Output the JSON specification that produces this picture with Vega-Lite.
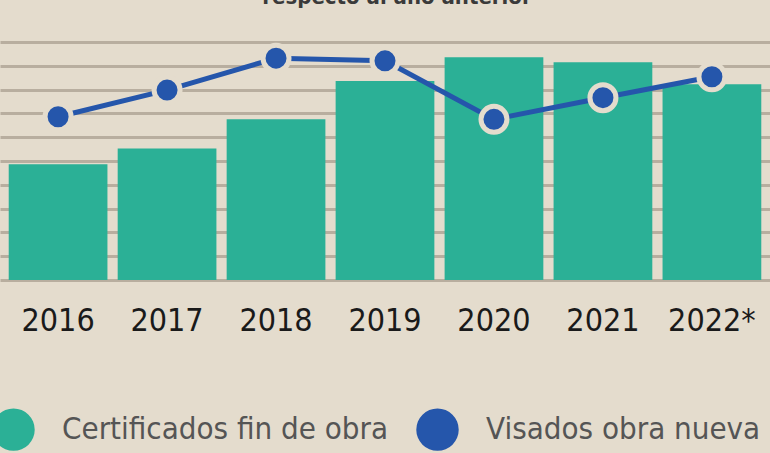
{
  "$schema": "https://vega.github.io/schema/vega-lite/v6.json",
  "width": 770,
  "height": 238,
  "autosize": {"type": "none"},
  "padding": {"left": 0, "top": 42, "right": 0, "bottom": 173},
  "background": "#e4dccd",
  "title": {
    "text": "respecto al año anterior",
    "anchor": "middle",
    "frame": "group",
    "baseline": "alphabetic",
    "offset": 9,
    "dx": 12,
    "font": "'DejaVu Sans Condensed', serif",
    "fontSize": 22,
    "fontWeight": "bold",
    "color": "#3a3a3a"
  },
  "config": {"view": {"stroke": null}},
  "data": {
    "values": [
      {"year": "2016", "serie": "Certificados fin de obra", "value": 4.86},
      {"year": "2017", "serie": "Certificados fin de obra", "value": 5.53},
      {"year": "2018", "serie": "Certificados fin de obra", "value": 6.75},
      {"year": "2019", "serie": "Certificados fin de obra", "value": 8.36},
      {"year": "2020", "serie": "Certificados fin de obra", "value": 9.36},
      {"year": "2021", "serie": "Certificados fin de obra", "value": 9.15},
      {"year": "2022*", "serie": "Certificados fin de obra", "value": 8.22},
      {"year": "2016", "serie": "Visados obra nueva", "value": 6.86},
      {"year": "2017", "serie": "Visados obra nueva", "value": 7.98},
      {"year": "2018", "serie": "Visados obra nueva", "value": 9.32},
      {"year": "2019", "serie": "Visados obra nueva", "value": 9.21},
      {"year": "2020", "serie": "Visados obra nueva", "value": 6.75},
      {"year": "2021", "serie": "Visados obra nueva", "value": 7.66},
      {"year": "2022*", "serie": "Visados obra nueva", "value": 8.54}
    ]
  },
  "encoding": {
    "x": {
      "field": "year",
      "type": "ordinal",
      "sort": null,
      "scale": {"paddingInner": 0.094, "paddingOuter": 0.08},
      "axis": {
        "title": null,
        "domain": false,
        "ticks": false,
        "tickSize": 0,
        "grid": false,
        "labelAngle": 0,
        "labelPadding": 50,
        "labelBaseline": "alphabetic",
        "labelFontSize": 32,
        "labelFont": "'DejaVu Sans Condensed', serif",
        "labelColor": "#1a1a1a"
      }
    },
    "y": {
      "field": "value",
      "type": "quantitative",
      "scale": {"domain": [0, 10], "nice": false, "zero": true},
      "axis": {
        "title": null,
        "labels": false,
        "ticks": false,
        "domain": false,
        "grid": true,
        "gridColor": "#b8ae9f",
        "gridWidth": 3,
        "values": [0, 1, 2, 3, 4, 5, 6, 7, 8, 9, 10]
      }
    }
  },
  "layer": [
    {
      "transform": [{"filter": "datum.serie === 'Certificados fin de obra'"}],
      "mark": {"type": "bar"},
      "encoding": {
        "color": {
          "field": "serie",
          "type": "nominal",
          "scale": {
            "domain": ["Certificados fin de obra", "Visados obra nueva"],
            "range": ["#2bb096", "#2556ab"]
          },
          "legend": {
            "orient": "none",
            "legendX": -8,
            "legendY": 366,
            "direction": "horizontal",
            "title": null,
            "symbolType": "circle",
            "symbolSize": 1800,
            "symbolStrokeWidth": 0,
            "labelFontSize": 31,
            "labelFont": "'DejaVu Sans Condensed', serif",
            "labelColor": "#555555",
            "labelOffset": 27,
            "columnPadding": 27,
            "padding": 0,
            "labelLimit": 0
          }
        }
      }
    },
    {
      "transform": [{"filter": "datum.serie === 'Visados obra nueva'"}],
      "mark": {"type": "line", "color": "#2556ab", "strokeWidth": 5}
    },
    {
      "transform": [{"filter": "datum.serie === 'Visados obra nueva'"}],
      "mark": {
        "type": "point",
        "filled": true,
        "size": 676,
        "fill": "#2556ab",
        "stroke": "#e4dccd",
        "strokeWidth": 5,
        "opacity": 1
      }
    }
  ]
}
